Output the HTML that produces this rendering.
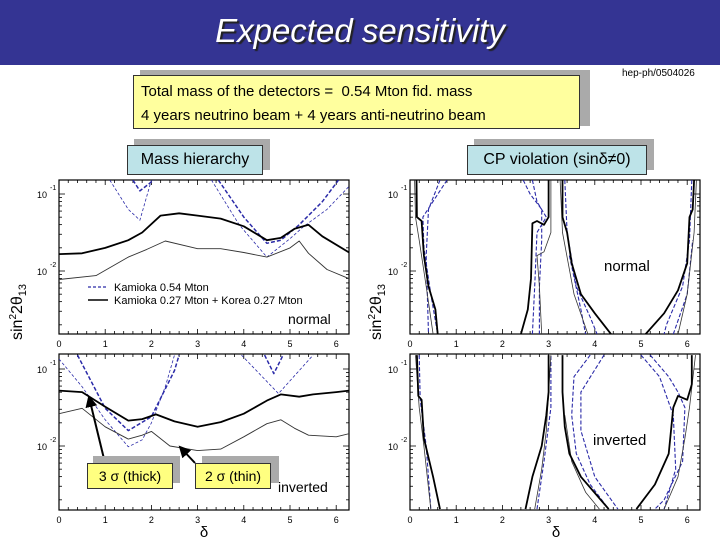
<!DOCTYPE html>
<html><head><meta charset="utf-8">
<style>
body{margin:0;width:720px;height:540px;background:#fff;overflow:hidden;font-family:"Liberation Sans",sans-serif;position:relative}
.abs{position:absolute}
.box{position:absolute;border:1px solid #333;font-size:15px;color:#000}
.shadow{position:absolute;background:#aaa}
</style></head><body>
<div class="abs" style="left:0;top:0;width:720px;height:65px;background:#343493"></div>
<div class="abs" style="left:0;top:12px;width:720px;text-align:center;color:#fff;font-size:33px;font-style:italic;text-shadow:2px 2px 1px #222">Expected sensitivity</div>
<div class="abs" style="left:622px;top:68px;font-size:10px">hep-ph/0504026</div>

<div class="shadow" style="left:140px;top:70px;width:450px;height:56px"></div>
<div class="box" style="left:133px;top:75px;width:447px;height:54px;background:#ffff9e;padding:0 0 0 7px;line-height:24px;font-size:15px;box-sizing:border-box;padding-top:4px">Total mass of the detectors =&nbsp; 0.54 Mton fid. mass<br>4 years neutrino beam + 4 years anti-neutrino beam</div>

<div class="shadow" style="left:134px;top:139px;width:136px;height:31px"></div>
<div class="box" style="left:127px;top:145px;width:136px;height:30px;background:#bde3e8;box-sizing:border-box;text-align:center;line-height:28px;font-size:16px">Mass hierarchy</div>
<div class="shadow" style="left:474px;top:139px;width:180px;height:31px"></div>
<div class="box" style="left:467px;top:145px;width:180px;height:30px;background:#bde3e8;box-sizing:border-box;text-align:center;line-height:28px;font-size:16px">CP violation (sinδ≠0)</div>

<svg id="chart" class="abs" style="left:0;top:0" width="720" height="540"></svg>

<div class="shadow" style="left:93px;top:456px;width:87px;height:27px"></div>
<div class="box" style="left:87px;top:463px;width:86px;height:26px;background:#ffff80;box-sizing:border-box;text-align:center;line-height:24px;font-size:14px">3 σ (thick)</div>
<div class="shadow" style="left:202px;top:456px;width:77px;height:27px"></div>
<div class="box" style="left:195px;top:463px;width:76px;height:26px;background:#ffff80;box-sizing:border-box;text-align:center;line-height:24px;font-size:14px">2 σ (thin)</div>

<script>
// ---- data (delta, log10 sin^2 2theta13) ----
const xTicks=[0,1,2,3,4,5,6];
const yDecades=[-1,-2];
// top-left (normal)
const tlThickX=[0,0.5,1,1.5,1.8,2.2,2.6,3,3.5,4,4.5,4.8,5.1,5.4,5.7,6.28];
const tlThickY=[-1.78,-1.77,-1.7,-1.6,-1.5,-1.28,-1.25,-1.28,-1.32,-1.42,-1.6,-1.57,-1.45,-1.4,-1.55,-1.76];
const tlThinX=[0,0.8,1.5,1.9,2.3,3,3.5,4,4.5,5,5.2,5.4,5.8,6.28];
const tlThinY=[-2.11,-2.06,-1.82,-1.72,-1.61,-1.71,-1.71,-1.76,-1.82,-1.7,-1.61,-1.77,-1.98,-2.1];
const tlBlueThickX=[1.6,1.75,2.05,null,3.45,4,4.5,4.8,5.2,5.7,6.05];
const tlBlueThickY=[-0.82,-0.96,-0.82,null,-0.82,-1.3,-1.64,-1.6,-1.4,-1.1,-0.82];
const tlBlueThinX=[1.1,1.5,1.75,2.0,null,3.3,3.9,4.5,5.0,5.3,5.8,6.28];
const tlBlueThinY=[-0.82,-1.2,-1.34,-0.82,null,-0.82,-1.4,-1.82,-1.58,-1.42,-1.2,-0.9];
// bottom-left (inverted)
const blThickX=[0,0.5,1,1.5,1.8,2.1,2.5,3,3.5,4,4.5,4.8,5.2,5.5,6,6.28];
const blThickY=[-1.28,-1.3,-1.49,-1.67,-1.65,-1.59,-1.68,-1.75,-1.69,-1.58,-1.41,-1.33,-1.36,-1.33,-1.3,-1.28];
const blThinX=[0,0.5,1,1.5,1.8,2.0,2.4,3,3.5,4,4.5,4.8,5.1,5.4,6,6.28];
const blThinY=[-1.58,-1.51,-1.75,-1.91,-1.86,-1.81,-2.0,-2.06,-2.04,-1.88,-1.71,-1.66,-1.77,-1.86,-1.88,-1.84];
const blBlueThickX=[0.4,1,1.5,2,2.5,2.6,null,4.45,4.65,4.85];
const blBlueThickY=[-0.82,-1.51,-1.8,-1.62,-1.02,-0.82,null,-0.82,-1.06,-0.82];
const blBlueThinX=[0,0.5,1,1.5,1.8,2,2.3,2.5,null,3.95,4.75,5.5];
const blBlueThinY=[-0.87,-1.23,-1.66,-2.01,-1.92,-1.7,-1.23,-0.82,null,-0.82,-1.32,-0.82];
// top-right (normal)
const trThickX=[0.14,0.15,0.25,0.3,0.4,0.55,0.6,null,2.4,2.55,2.62,2.65,2.75,2.9,3.0,3.0,null,3.3,3.3,3.4,3.5,3.7,4.0,4.35,null,5.1,5.5,5.8,6.0,6.05,6.12,6.15];
const trThickY=[-0.82,-1.3,-1.35,-1.8,-2.2,-2.5,-2.82,null,-2.82,-2.5,-2.1,-1.38,-1.35,-1.4,-1.3,-0.82,null,-0.82,-1.3,-1.5,-1.9,-2.3,-2.55,-2.82,null,-2.82,-2.55,-2.25,-1.9,-1.3,-1.2,-0.82];
const trThinX=[0.1,0.12,0.2,0.35,0.5,null,2.85,2.8,2.75,2.9,3.05,3.05,null,3.25,3.3,3.55,3.85,null,5.8,6.0,6.15,6.2];
const trThinY=[-0.82,-1.3,-1.6,-2.2,-2.82,null,-2.82,-2.2,-1.8,-1.75,-1.5,-0.82,null,-0.82,-1.5,-2.3,-2.82,null,-2.82,-2.3,-1.5,-0.82];
const trBlueX=[0.8,0.55,0.28,0.3,0.45,0.6,null,0.65,0.4,0.35,0.4,null,2.45,2.6,2.85,2.85,2.8,2.8,null,2.65,2.75,2.95,2.75,2.7,2.65,null,3.35,3.4,3.6,3.9,4.05,null,3.45,3.7,3.8,null,6.1,6.05,5.9,5.55,5.5,null,5.7,6.0,6.12];
const trBlueY=[-0.82,-1.05,-1.3,-1.7,-2.3,-2.82,null,-0.82,-1.2,-1.8,-2.82,null,-0.82,-1.0,-1.2,-1.6,-2.2,-2.82,null,-0.82,-1.1,-1.3,-1.5,-2.2,-2.82,null,-0.82,-1.5,-2.2,-2.6,-2.82,null,-1.8,-2.5,-2.82,null,-0.82,-1.6,-2.2,-2.7,-2.82,null,-2.82,-2.3,-1.6];
// bottom-right (inverted)
const brThickX=[0.15,0.18,0.25,0.3,0.5,0.65,null,2.5,2.65,2.85,2.95,3.0,3.0,null,3.3,3.3,3.35,3.45,3.7,4.3,null,4.9,5.3,5.6,5.7,5.8,6.0,6.1,6.1];
const brThickY=[-0.82,-1.35,-1.4,-1.9,-2.4,-2.82,null,-2.82,-2.4,-2.0,-1.6,-1.3,-0.82,null,-0.82,-1.3,-1.75,-2.1,-2.4,-2.82,null,-2.82,-2.5,-2.1,-1.5,-1.35,-1.4,-1.2,-0.82];
const brThinX=[0.12,0.2,0.3,0.45,null,2.7,2.85,2.95,3.05,null,3.35,3.5,3.8,4.1,null,5.5,5.8,5.95,6.05,6.18];
const brThinY=[-0.82,-1.5,-2.0,-2.82,null,-2.82,-2.3,-1.8,-0.82,null,-1.6,-2.2,-2.6,-2.82,null,-2.82,-2.4,-1.9,-1.5,-0.82];
const brBlueX=[0.2,0.22,0.35,0.45,null,2.75,2.9,3.05,3.05,null,3.9,3.55,3.5,3.6,3.9,4.3,null,4.2,3.7,3.7,4.0,4.5,null,5.2,5.6,5.8,5.95,5.9,5.5,5.3,null,5.0,5.4,5.7,5.75,5.5];
const brBlueY=[-0.82,-1.4,-2.0,-2.82,null,-2.82,-2.2,-1.5,-0.82,null,-0.82,-1.1,-1.6,-2.1,-2.5,-2.82,null,-0.82,-1.3,-1.8,-2.4,-2.82,null,-0.82,-1.1,-1.3,-1.5,-2.2,-2.7,-2.82,null,-0.82,-1.1,-1.6,-2.3,-2.82];

const NS="http://www.w3.org/2000/svg";
const svg=document.getElementById('chart');
function mk(tag,attrs,parent){const e=document.createElementNS(NS,tag);for(const k in attrs)e.setAttribute(k,attrs[k]);(parent||svg).appendChild(e);return e;}

const panels=[
 {id:'tl',x0:59,y0:180,y1:334,dec1:194},
 {id:'bl',x0:59,y0:354,y1:510,dec1:369},
 {id:'tr',x0:410,y0:180,y1:334,dec1:194},
 {id:'br',x0:410,y0:354,y1:510,dec1:369}
];
const W=290, PU=46.2, DEC=77;
function xs(p,d){return p.x0+d*PU;}
function ys(p,l){return p.dec1+(-1-l)*DEC;}

function drawSeries(p,X,Y,stroke,width,dash,name){
  let d='',start=true;
  for(let i=0;i<X.length;i++){
    if(X[i]===null){start=true;continue;}
    d+=(start?'M':'L')+xs(p,X[i]).toFixed(1)+' '+ys(p,Y[i]).toFixed(1)+' ';start=false;
  }
  const e=mk('path',{d:d,fill:'none',stroke:stroke,'stroke-width':width,'stroke-linejoin':'round','clip-path':'url(#clip-'+p.id+')'});
  if(dash)e.setAttribute('stroke-dasharray',dash);
  
  
}

const defs=mk('defs',{});
panels.forEach(p=>{
  const cp=mk('clipPath',{id:'clip-'+p.id},defs);
  mk('rect',{x:p.x0,y:p.y0,width:W,height:p.y1-p.y0},cp);
  const fr=mk('rect',{x:p.x0,y:p.y0,width:W,height:p.y1-p.y0,fill:'#fff',stroke:'#000','stroke-width':1.2});
  
  
  for(let d=0;d<=6.2;d+=0.2){
    const major=Math.abs(d-Math.round(d))<0.01, len=major?5:3, x=xs(p,d);
    mk('line',{x1:x,x2:x,y1:p.y1,y2:p.y1-len,stroke:'#000','stroke-width':0.8});
    mk('line',{x1:x,x2:x,y1:p.y0,y2:p.y0+len,stroke:'#000','stroke-width':0.8});
  }
  xTicks.forEach(t=>{
    const tx=mk('text',{x:xs(p,t),y:p.y1+13,'font-size':9,'text-anchor':'middle'});
    tx.textContent=t;
    
    
  });
  for(let dec=-3;dec<=-1;dec++){
    for(let m=1;m<10;m++){
      const l=dec+Math.log10(m), y=ys(p,l);
      if(y<p.y0||y>p.y1)continue;
      const len=m===1?6:3;
      mk('line',{x1:p.x0,x2:p.x0+len,y1:y,y2:y,stroke:'#000','stroke-width':0.8});
      mk('line',{x1:p.x0+W,x2:p.x0+W-len,y1:y,y2:y,stroke:'#000','stroke-width':0.8});
    }
  }
  yDecades.forEach(dv=>{
    const y=ys(p,dv);
    const tx=mk('text',{x:p.x0-22,y:y+4,'font-size':9});
    tx.textContent='10';
    
    
    const ex=mk('text',{x:p.x0-9,y:y-4,'font-size':7});
    ex.textContent=String(dv);
    
    
  });
});
const P={}; panels.forEach(p=>P[p.id]=p);
const BLUE='#2a2aa8';
drawSeries(P.tl,tlBlueThinX,tlBlueThinY,BLUE,0.8,'3,2','kamioka-2sigma-normal');
drawSeries(P.tl,tlBlueThickX,tlBlueThickY,BLUE,1.5,'4,2','kamioka-3sigma-normal');
drawSeries(P.tl,tlThinX,tlThinY,'#333',0.9,null,'kamioka-korea-2sigma-normal');
drawSeries(P.tl,tlThickX,tlThickY,'#000',1.8,null,'kamioka-korea-3sigma-normal');
drawSeries(P.bl,blBlueThinX,blBlueThinY,BLUE,0.8,'3,2','kamioka-2sigma-inverted');
drawSeries(P.bl,blBlueThickX,blBlueThickY,BLUE,1.5,'4,2','kamioka-3sigma-inverted');
drawSeries(P.bl,blThinX,blThinY,'#333',0.9,null,'kamioka-korea-2sigma-inverted');
drawSeries(P.bl,blThickX,blThickY,'#000',1.8,null,'kamioka-korea-3sigma-inverted');
drawSeries(P.tr,trBlueX,trBlueY,BLUE,1.1,'4,2','cp-kamioka-normal');
drawSeries(P.tr,trThinX,trThinY,'#333',0.8,null,'cp-2sigma-normal');
drawSeries(P.tr,trThickX,trThickY,'#000',1.8,null,'cp-3sigma-normal');
drawSeries(P.br,brBlueX,brBlueY,BLUE,1.1,'4,2','cp-kamioka-inverted');
drawSeries(P.br,brThinX,brThinY,'#333',0.8,null,'cp-2sigma-inverted');
drawSeries(P.br,brThickX,brThickY,'#000',1.8,null,'cp-3sigma-inverted');

function txt(x,y,s,size,name,extra){
  const t=mk('text',Object.assign({x:x,y:y,'font-size':size},extra||{}));
  t.textContent=s;
  
  
  return t;
}
mk('line',{x1:88,x2:108,y1:287,y2:287,stroke:BLUE,'stroke-width':1.3,'stroke-dasharray':'3,2'});
txt(114,291,'Kamioka 0.54 Mton',11,'legend-kamioka');
mk('line',{x1:88,x2:108,y1:300,y2:300,stroke:'#000','stroke-width':1.5});
txt(114,304,'Kamioka 0.27 Mton + Korea 0.27 Mton',11,'legend-kamioka-korea');
txt(288,324,'normal',14,'normal-label-left');
txt(278,492,'inverted',14,'inverted-label-left');
txt(604,271,'normal',15,'normal-label-right');
txt(593,445,'inverted',15,'inverted-label-right');
[[22,340],[381,340]].forEach(([x,y],i)=>{
  const t=mk('text',{x:x,y:y,'font-size':16,transform:'rotate(-90 '+x+' '+y+')'});
  t.innerHTML='sin<tspan font-size="10" dy="-6">2</tspan><tspan dy="6">2θ</tspan><tspan font-size="11" dy="4">13</tspan>';
  
  
});
txt(204,537,'δ',15,'x-axis-title-left',{'text-anchor':'middle'});
txt(556,537,'δ',15,'x-axis-title-right',{'text-anchor':'middle'});
mk('marker',{id:'ah',markerWidth:6,markerHeight:6,refX:5,refY:3,orient:'auto'},defs).appendChild(document.createElementNS(NS,'path')).setAttribute('d','M0 0L6 3L0 6z');
const a1=mk('line',{x1:105,y1:463,x2:89,y2:397,stroke:'#000','stroke-width':2,'marker-end':'url(#ah)'});


const a2=mk('line',{x1:195,y1:463,x2:180,y2:447,stroke:'#000','stroke-width':2,'marker-end':'url(#ah)'});


</script>
</body></html>
